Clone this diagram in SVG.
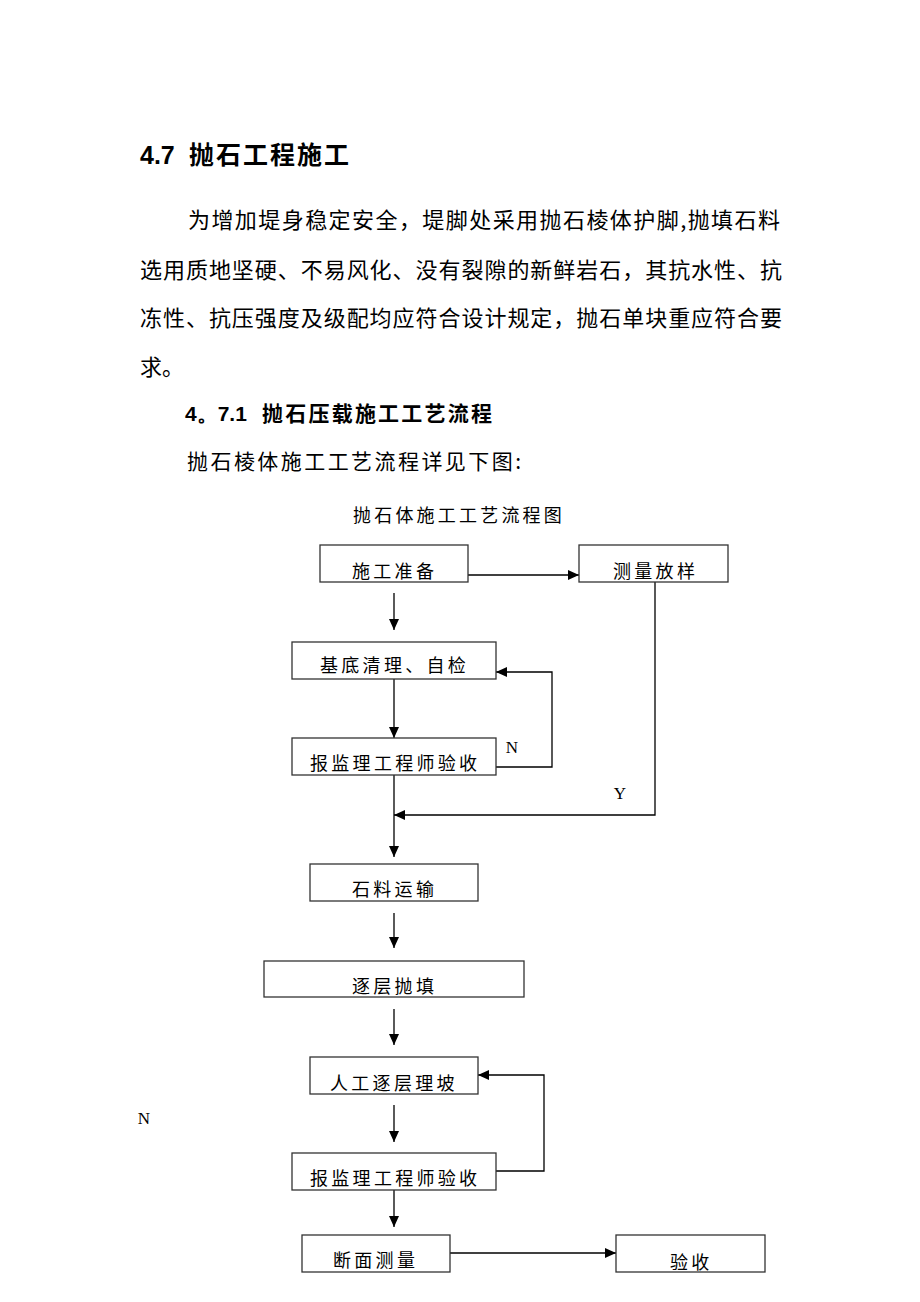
<svg xmlns="http://www.w3.org/2000/svg" width="920" height="1302" viewBox="0 0 920 1302">
<style>
  .cjk { font-family: "Noto Sans CJK SC", "Noto Sans", sans-serif; fill: #000; }
  .h1 { font-size: 25px; font-weight: bold; }
  .h2 { font-size: 21px; font-weight: bold; }
  .p { font-size: 22px; }
  .title { font-size: 18px; letter-spacing: 3.2px; }
  .box rect { fill: #fff; stroke: #333; stroke-width: 1.3; }
  .box text { font-family: "Noto Sans CJK SC", "Noto Sans", sans-serif; font-size: 18px; letter-spacing: 3.3px; fill: #000; }
  .lbl { font-family: "Liberation Serif", "DejaVu Serif", serif; font-size: 17px; fill: #000; }
  .num { font-family: "Liberation Sans Narrow", "Liberation Sans", sans-serif; font-weight: bold; }
  #connectors path, #connectors line, #connectors polyline { fill: none; stroke: #000; stroke-width: 1.3; }
</style>
<defs>
  <marker id="arr" markerUnits="userSpaceOnUse" markerWidth="12" markerHeight="10" viewBox="0 0 12 10" refX="11" refY="5" orient="auto">
    <path d="M0,0 L11,5 L0,10 Z" fill="#000"/>
  </marker>
</defs>
<rect width="920" height="1302" fill="#fff"/>

<g id="text">
  <text class="cjk h1" y="164"><tspan class="num" x="140">4.7</tspan><tspan x="189" style="letter-spacing:2px">抛石工程施工</tspan></text>
  <text class="cjk p" x="188" y="228" textLength="592" lengthAdjust="spacing">为增加堤身稳定安全，堤脚处采用抛石棱体护脚,抛填石料</text>
  <text class="cjk p" x="140" y="278" textLength="642" lengthAdjust="spacing">选用质地坚硬、不易风化、没有裂隙的新鲜岩石，其抗水性、抗</text>
  <text class="cjk p" x="140" y="326" textLength="642" lengthAdjust="spacing">冻性、抗压强度及级配均应符合设计规定，抛石单块重应符合要</text>
  <text class="cjk p" x="140" y="375">求。</text>
  <text class="cjk h2" y="421"><tspan class="num" x="185">4。7.1</tspan><tspan x="262" textLength="230" lengthAdjust="spacing">抛石压载施工工艺流程</tspan></text>
  <text class="cjk p" x="187" y="469" textLength="334" lengthAdjust="spacing" style="font-size:21px">抛石棱体施工工艺流程详见下图:</text>
  <text class="cjk title" x="353" y="522">抛石体施工工艺流程图</text>
</g>

<g id="connectors">
  <line x1="468" y1="575" x2="579" y2="575" marker-end="url(#arr)"/>
  <line x1="394" y1="593" x2="394" y2="630" marker-end="url(#arr)"/>
  <line x1="394" y1="679" x2="394" y2="738" marker-end="url(#arr)"/>
  <polyline points="496,767 552,767 552,672 496,672" marker-end="url(#arr)"/>
  <polyline points="655,582 655,815 394,815" marker-end="url(#arr)"/>
  <line x1="394" y1="775" x2="394" y2="857" marker-end="url(#arr)"/>
  <line x1="394" y1="913" x2="394" y2="948" marker-end="url(#arr)"/>
  <line x1="394" y1="1009" x2="394" y2="1045" marker-end="url(#arr)"/>
  <line x1="394" y1="1105" x2="394" y2="1142" marker-end="url(#arr)"/>
  <polyline points="496,1171 544,1171 544,1075 478,1075" marker-end="url(#arr)"/>
  <line x1="394" y1="1190" x2="394" y2="1227" marker-end="url(#arr)"/>
  <line x1="450" y1="1253" x2="616" y2="1253" marker-end="url(#arr)"/>
  <text class="lbl" x="512" y="753" text-anchor="middle">N</text>
  <text class="lbl" x="620" y="799" text-anchor="middle">Y</text>
  <text class="lbl" x="144" y="1124" text-anchor="middle">N</text>
</g>

<g id="n1" class="box"><rect x="320" y="545" width="148" height="37"/><text x="352" y="578">施工准备</text></g>
<g id="n2" class="box"><rect x="579" y="545" width="149" height="37"/><text x="613" y="578">测量放样</text></g>
<g id="n3" class="box"><rect x="292" y="642" width="204" height="37"/><text x="320" y="672">基底清理、自检</text></g>
<g id="n4" class="box"><rect x="292" y="738" width="204" height="37"/><text x="310" y="770">报监理工程师验收</text></g>
<g id="n5" class="box"><rect x="310" y="864" width="168" height="37"/><text x="352" y="896">石料运输</text></g>
<g id="n6" class="box"><rect x="264" y="961" width="260" height="36"/><text x="352" y="993">逐层抛填</text></g>
<g id="n7" class="box"><rect x="310" y="1057" width="168" height="37"/><text x="330" y="1090">人工逐层理坡</text></g>
<g id="n8" class="box"><rect x="292" y="1153" width="204" height="37"/><text x="310" y="1185">报监理工程师验收</text></g>
<g id="n9" class="box"><rect x="302" y="1235" width="148" height="37"/><text x="333" y="1267">断面测量</text></g>
<g id="n10" class="box"><rect x="616" y="1235" width="149" height="37"/><text x="670" y="1269">验收</text></g>
</svg>
